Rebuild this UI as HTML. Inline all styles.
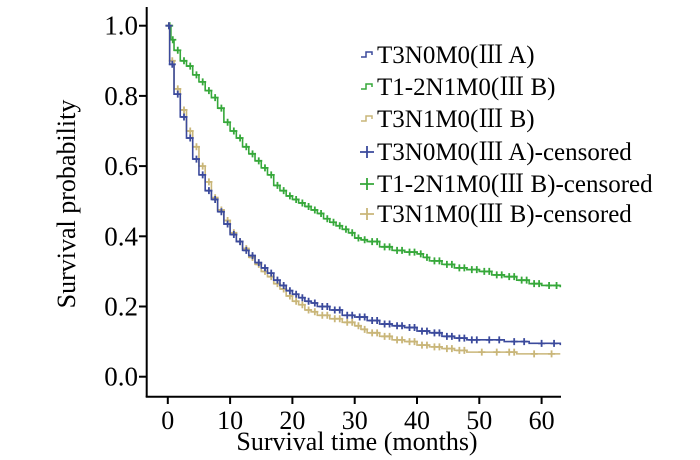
<!DOCTYPE html>
<html><head><meta charset="utf-8"><style>
body{margin:0;background:#fff;}
svg{display:block;}
text{font-family:'Liberation Serif','Noto Serif CJK SC',serif;}
</style></head><body>
<svg id="chart" width="700" height="460">
<g id="axes"></g>
<g id="plot"></g>
<g id="legend"></g>
<text x="357" y="450" font-size="26" font-family="Liberation Serif, serif" text-anchor="middle">Survival time (months)</text>
<text transform="translate(75,204) rotate(-90)" font-size="26" font-family="Liberation Serif, serif" text-anchor="middle">Survival probability</text>
</svg>
<script>
const xTicks=[0,10,20,30,40,50,60];
const yTicks=[0.0,0.2,0.4,0.6,0.8,1.0];
const seriesNames=["T3N0M0(Ⅲ A)","T1-2N1M0(Ⅲ B)","T3N1M0(Ⅲ B)"];
const greenT=[0,0.5,1,2,3,4,5,6,7,8,9,10,11,12,13,14,15,16,17,18,19,20,21,22,23,24,25,26,27,28,29,30,31,32,34,36,38,40,41,42,44,46,48,50,52,54,56,58,60,63];
const greenS=[1.0,0.96,0.93,0.9,0.885,0.86,0.84,0.815,0.795,0.765,0.725,0.70,0.68,0.655,0.635,0.615,0.595,0.575,0.545,0.53,0.515,0.505,0.495,0.485,0.475,0.465,0.45,0.44,0.43,0.42,0.41,0.395,0.39,0.385,0.37,0.36,0.355,0.35,0.34,0.33,0.32,0.31,0.305,0.30,0.29,0.285,0.275,0.265,0.26,0.255];
const blueT=[0,0.3,1,2,3,4,5,6,7,8,9,10,11,12,13,14,15,16,17,18,19,20,21,22,23,24,26,28,30,32,34,36,38,40,42,44,46,48,50,54,58,63];
const blueS=[1.0,0.89,0.805,0.74,0.68,0.62,0.575,0.53,0.505,0.47,0.435,0.405,0.385,0.36,0.345,0.325,0.31,0.295,0.275,0.26,0.245,0.235,0.225,0.215,0.21,0.2,0.19,0.175,0.17,0.16,0.15,0.145,0.14,0.13,0.125,0.115,0.11,0.105,0.105,0.1,0.095,0.09];
const tanT=[0,0.3,1,2,3,4,5,6,7,8,9,10,11,12,13,14,15,16,17,18,19,20,21,22,23,24,26,28,30,31,32,34,36,38,40,42,44,46,48,54,56,63];
const tanS=[1.0,0.9,0.82,0.76,0.70,0.655,0.6,0.555,0.51,0.475,0.445,0.41,0.385,0.365,0.34,0.32,0.3,0.285,0.265,0.25,0.23,0.215,0.205,0.19,0.185,0.175,0.165,0.155,0.145,0.135,0.125,0.115,0.105,0.1,0.09,0.085,0.08,0.075,0.07,0.07,0.065,0.065];
const colors=["#3b4a9c","#36a83a","#c9b679"];

const NS="http://www.w3.org/2000/svg";
const FF="Liberation Serif, Noto Serif CJK SC, serif";
const X=t=>167.8+t*6.23;
const Y=v=>376.7-v*351;
function mk(tag,attrs,parent){const e=document.createElementNS(NS,tag);for(const k in attrs)e.setAttribute(k,attrs[k]);parent.appendChild(e);return e;}
const axes=document.getElementById('axes'),plot=document.getElementById('plot'),leg=document.getElementById('legend');
let a=mk('line',{x1:146.7,y1:7,x2:146.7,y2:397,stroke:'#000','stroke-width':2},axes);

a=mk('line',{x1:145.7,y1:396.7,x2:561,y2:396.7,stroke:'#000','stroke-width':2},axes);

yTicks.forEach(v=>{
  const l=mk('line',{x1:139,y1:Y(v),x2:146.7,y2:Y(v),stroke:'#000','stroke-width':2},axes);
  
  const t=mk('text',{x:138,y:Y(v)+9,'font-size':27,'font-family':FF,'text-anchor':'end'},axes);t.textContent=v.toFixed(1);
  
});
xTicks.forEach(v=>{
  const l=mk('line',{x1:X(v),y1:396.7,x2:X(v),y2:404,stroke:'#000','stroke-width':2},axes);
  
  const t=mk('text',{x:X(v),y:429,'font-size':26,'font-family':FF,'text-anchor':'middle'},axes);t.textContent=v;
  
});
function drawSeries(T,S,c,name){
  let d=`M${X(T[0])},${Y(S[0])}`;
  for(let i=1;i<T.length;i++){d+=`H${X(T[i])}V${Y(S[i])}`;}
  const p=mk('path',{d:d,fill:'none',stroke:c,'stroke-width':1.6},plot);
  
  for(let i=1;i<T.length;i++){
    const segs=T[i]-T[i-1]>1.5?[T[i-1]+0.4*(T[i]-T[i-1]),T[i-1]+0.8*(T[i]-T[i-1])]:[T[i-1]+0.6*(T[i]-T[i-1])];
    segs.forEach(t=>{
      const x=X(t),y=Y(S[i-1]);
      const m=mk('path',{d:`M${x-3.5},${y}H${x+3.5}M${x},${y-3.5}V${y+3.5}`,stroke:c,'stroke-width':1.8},plot);
      
    });
  }
}
drawSeries(greenT,greenS,colors[1],'t1-2n1m0');
drawSeries(tanT,tanS,colors[2],'t3n1m0');
drawSeries(blueT,blueS,colors[0],'t3n0m0');
const rows=[55,87,119,152,184,214];
for(let i=0;i<6;i++){
  const c=colors[i%3],y=rows[i];
  let m;
  if(i<3){m=mk('path',{d:`M361,${y+2}H366V${y-3}H372V${y}`,fill:'none',stroke:c,'stroke-width':1.5},leg);}
  else{m=mk('path',{d:`M360,${y}H374M367,${y-6}V${y+6}`,stroke:c,'stroke-width':1.8},leg);}
  
  const t=mk('text',{x:377,y:y+8,'font-size':25,'font-family':FF},leg);
  t.textContent=seriesNames[i%3]+(i>=3?'-censored':'');
  
}
</script>
</body></html>
